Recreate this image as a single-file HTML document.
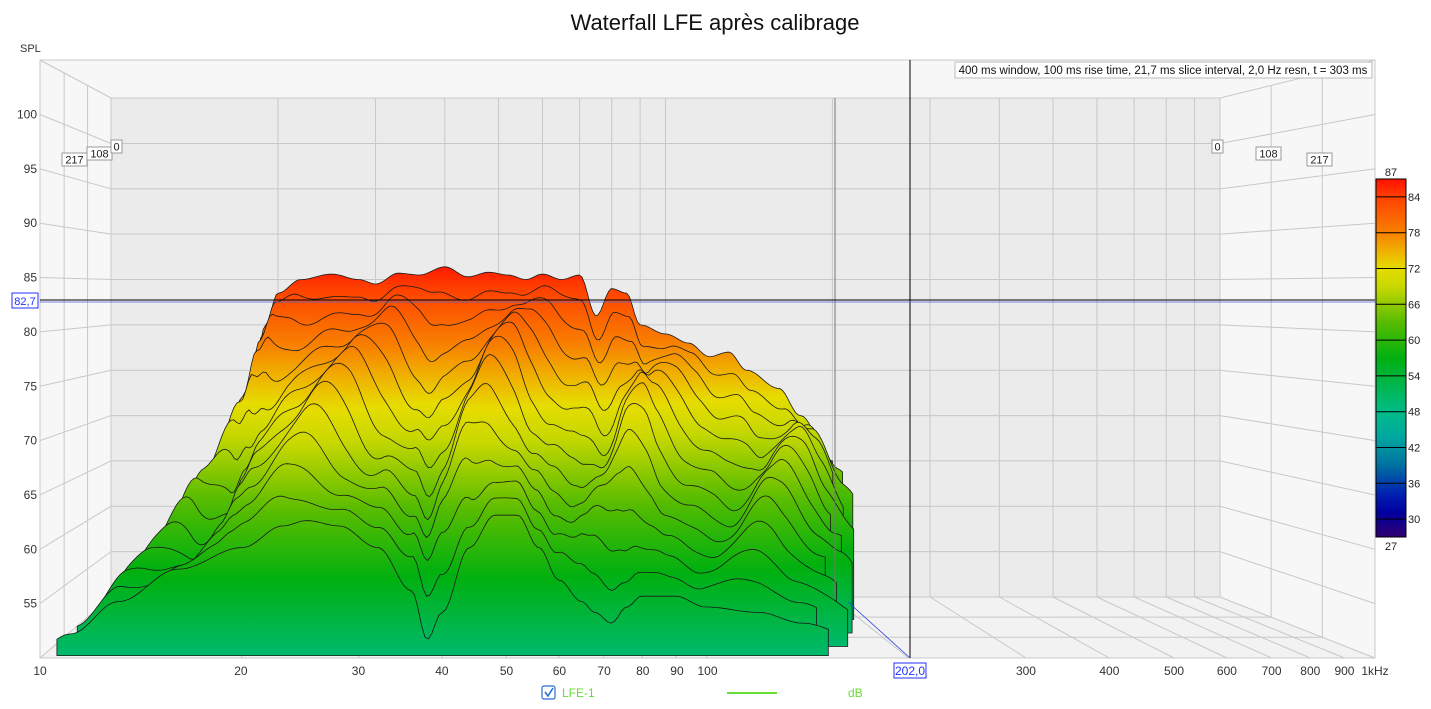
<!DOCTYPE html>
<html><head><meta charset="utf-8">
<style>
html,body{margin:0;padding:0;background:#fff;width:1431px;height:709px;overflow:hidden}
svg text{font-family:"Liberation Sans",sans-serif}
</style></head>
<body>
<svg id="s" width="1431" height="709" xmlns="http://www.w3.org/2000/svg">
<defs>
<linearGradient id="cb" x1="0" y1="179" x2="0" y2="537" gradientUnits="userSpaceOnUse">
<stop offset="0" stop-color="#ff1000"/>
<stop offset="0.05" stop-color="#ff4000"/>
<stop offset="0.15" stop-color="#f88000"/>
<stop offset="0.2" stop-color="#f0b000"/>
<stop offset="0.25" stop-color="#e6dc00"/>
<stop offset="0.3" stop-color="#c8d800"/>
<stop offset="0.4" stop-color="#58bc00"/>
<stop offset="0.5" stop-color="#00b010"/>
<stop offset="0.6" stop-color="#00b860"/>
<stop offset="0.65" stop-color="#00bc88"/>
<stop offset="0.72" stop-color="#00a8a0"/>
<stop offset="0.8" stop-color="#0070a0"/>
<stop offset="0.88" stop-color="#0020b0"/>
<stop offset="0.93" stop-color="#0000a0"/>
<stop offset="1" stop-color="#300070"/>
</linearGradient>
</defs>
<g id="bg"></g>
<g id="wf"></g>
<g id="ov"></g>
</svg>
<script>
(function(){
const NS="http://www.w3.org/2000/svg";
function el(p,t,a,txt){const e=document.createElementNS(NS,t);for(const k in a)e.setAttribute(k,a[k]);if(txt!==undefined)e.textContent=txt;p.appendChild(e);return e;}
const bg=document.getElementById('bg'),wf=document.getElementById('wf'),ov=document.getElementById('ov'),defs=document.querySelector('defs');
const xf=f=>40+667.5*Math.log10(f/10);
const xb=f=>111+(xf(f)-40)*0.8307;
const yf=s=>658-(s-50)*10.87;
const yb=s=>98+(yf(s)-60)*0.8344;
const X=(f,p)=>xb(f)+(xf(f)-xb(f))*p;
const Y=(s,p)=>yb(s)+(yf(s)-yb(s))*p;
el(bg,'rect',{x:40,y:60,width:1335,height:598,fill:'#f7f7f7'});
el(bg,'polygon',{points:'111,98 1220,98 1220,597 111,597',fill:'#ebebeb'});
el(bg,'polygon',{points:'40,658 111,597 1220,597 1375,658',fill:'#f2f2f2'});
const G='#c8c8c8';
el(bg,'line',{x1:40,y1:60,x2:111,y2:98,stroke:G});
el(bg,'line',{x1:1375,y1:60,x2:1220,y2:98,stroke:G});
el(bg,'line',{x1:40,y1:658,x2:111,y2:597,stroke:G});
el(bg,'line',{x1:1375,y1:658,x2:1220,y2:597,stroke:G});
el(bg,'rect',{x:111,y:98,width:1109,height:499,fill:'none',stroke:G});
el(bg,'rect',{x:40,y:60,width:1335,height:598,fill:'none',stroke:G});
for(let s=55;s<=100;s+=5){
 el(bg,'line',{x1:111,y1:yb(s),x2:1220,y2:yb(s),stroke:G});
 el(bg,'line',{x1:40,y1:yf(s),x2:111,y2:yb(s),stroke:G});
 el(bg,'line',{x1:1375,y1:yf(s),x2:1220,y2:yb(s),stroke:G});
 el(bg,'text',{x:37,y:yf(s)+4,'font-size':12,'text-anchor':'end',fill:'#333'},String(s));
}
const fr=[20,30,40,50,60,70,80,90,100,200,300,400,500,600,700,800,900];
fr.forEach(f=>{
 el(bg,'line',{x1:xb(f),y1:98,x2:xb(f),y2:597,stroke:G});
 el(bg,'line',{x1:xf(f),y1:658,x2:xb(f),y2:597,stroke:G});
 if(f!==200)el(bg,'text',{x:xf(f),y:675,'font-size':12,'text-anchor':'middle',fill:'#333'},String(f));
});
el(bg,'text',{x:40,y:675,'font-size':12,'text-anchor':'middle',fill:'#333'},'10');
el(bg,'text',{x:1375,y:675,'font-size':12,'text-anchor':'middle',fill:'#333'},'1kHz');
[0.33,0.66].forEach(p=>{
 const xl=111-71*p, xr=1220+155*p, yt=98-38*p, ybt=597+61*p;
 el(bg,'line',{x1:xl,y1:yt,x2:xl,y2:ybt,stroke:G});
 el(bg,'line',{x1:xr,y1:yt,x2:xr,y2:ybt,stroke:G});
 el(bg,'line',{x1:xl,y1:ybt,x2:xr,y2:ybt,stroke:G});
});
el(bg,'text',{x:20,y:52,'font-size':11,fill:'#333'},'SPL');
el(bg,'text',{x:715,y:30,'font-size':22,'text-anchor':'middle',fill:'#111'},'Waterfall LFE après calibrage');
const topT=[[10,50],[11,55],[14,60],[16,66],[18,74],[19,80],[20,83.5],[22,85],[25,85.6],[28,85],[30,84.5],[33,85.7],[36,85.5],[40,86.4],[44,85.3],[48,85.8],[52,85.5],[56,85],[60,85.6],[65,85],[70,85.5],[75,81],[80,84],[85,83.5],[90,80],[100,79],[110,78],[120,76.5],[130,77],[140,75],[160,73],[175,70],[200,65],[250,55]];
const botT=[[10,51],[11,52],[13,55],[16,58],[20,60],[23,62],[25,62.5],[28,62],[32,60],[36,56],[38,51.5],[40,54],[44,60],[48,63],[52,63],[56,60],[60,57],[65,55],[68,54],[72,53],[76,54.5],[80,55.5],[90,55.5],[100,54.5],[120,54],[140,53],[165,52],[250,51]];
function interp(t,f){const lf=Math.log(f);if(f<=t[0][0])return t[0][1];for(let i=1;i<t.length;i++){if(f<=t[i][0]){const a=Math.log(t[i-1][0]),b=Math.log(t[i][0]);const u=(lf-a)/(b-a);const w=(1-Math.cos(Math.PI*u))/2;return t[i-1][1]*(1-w)+t[i][1]*w;}}return t[t.length-1][1];}
const N=14;
for(let k=0;k<N;k++){
 const q=k/(N-1), p=0.96*q;
 const fmin=18-7.5*q, fmax=200-55*q+(k%3)*8;
 const gid='g'+k;
 const lg=el(defs,'linearGradient',{id:gid,x1:0,x2:0,y1:Y(87,p),y2:Y(27,p),gradientUnits:'userSpaceOnUse'});
 [[0,'#ff1000'],[0.05,'#ff4000'],[0.15,'#f88000'],[0.2,'#f0b000'],[0.25,'#e6dc00'],[0.3,'#c8d800'],[0.4,'#58bc00'],[0.5,'#00b010'],[0.6,'#00b860'],[0.65,'#00bc88'],[0.72,'#00a8a0'],[1,'#0060a0']].forEach(s=>el(lg,'stop',{offset:s[0],'stop-color':s[1]}));
 let pts=[];
 const steps=220;
 for(let i=0;i<=steps;i++){
  const f=fmin*Math.pow(fmax/fmin,i/steps);
  const lf=Math.log(f);
  let L=interp(topT,f)*(1-q)+interp(botT,f)*q+2.8*Math.sin(Math.PI*q)*Math.sin(lf*11+q*6)+1.2*Math.sin(Math.PI*q)*Math.sin(lf*23+k);
  L=Math.max(L,51);
  pts.push([X(f,p),Y(L,p)]);
 }
 const y0a=Y(50,p);
 let d='M'+pts[0][0].toFixed(1)+','+y0a.toFixed(1);
 pts.forEach(pt=>d+=' L'+pt[0].toFixed(1)+','+pt[1].toFixed(1));
 d+=' L'+pts[pts.length-1][0].toFixed(1)+','+y0a.toFixed(1)+' Z';
 el(wf,'path',{d:d,fill:'url(#'+gid+')',stroke:'#1a1a1a','stroke-width':0.8});
}
el(ov,'line',{x1:835,y1:98,x2:835,y2:597,stroke:'#777'});
el(ov,'line',{x1:910,y1:60,x2:910,y2:658,stroke:'#000'});
el(ov,'line',{x1:40,y1:300,x2:1375,y2:300,stroke:'#000'});
el(ov,'line',{x1:40,y1:302,x2:1375,y2:302,stroke:'#5060d0','stroke-width':0.8});
el(ov,'line',{x1:848,y1:602,x2:910,y2:658,stroke:'#3040e0','stroke-width':0.8});
el(ov,'rect',{x:12,y:293,width:26,height:15,fill:'#fff',stroke:'#2030ff'});
el(ov,'text',{x:25,y:305,'font-size':11,'text-anchor':'middle',fill:'#2030ff'},'82,7');
el(ov,'rect',{x:894,y:663,width:32,height:15,fill:'#fff',stroke:'#2030ff'});
el(ov,'text',{x:910,y:675,'font-size':12,'text-anchor':'middle',fill:'#2030ff'},'202,0');
el(ov,'rect',{x:955,y:62,width:417,height:16,fill:'#fff',stroke:'#bbb'});
el(ov,'text',{x:1163,y:74,'font-size':11.5,'text-anchor':'middle',fill:'#111'},'400 ms window, 100 ms rise time, 21,7 ms slice interval, 2,0 Hz resn, t = 303 ms');
[[62,153,'217'],[87,147,'108'],[111,140,'0'],[1212,140,'0'],[1256,147,'108'],[1307,153,'217']].forEach(b=>{
 const w=b[2].length*7+4;
 el(ov,'rect',{x:b[0],y:b[1],width:w,height:13,fill:'#fff',stroke:'#999'});
 el(ov,'text',{x:b[0]+w/2,y:b[1]+10.5,'font-size':11,'text-anchor':'middle',fill:'#222'},b[2]);
});
el(ov,'rect',{x:1376,y:179,width:30,height:358,fill:'url(#cb)',stroke:'#000'});
el(ov,'text',{x:1391,y:176,'font-size':11,'text-anchor':'middle',fill:'#222'},'87');
el(ov,'text',{x:1391,y:550,'font-size':11,'text-anchor':'middle',fill:'#222'},'27');
for(let v=84;v>=30;v-=6){const y=179+(87-v)*358/60;el(ov,'line',{x1:1376,y1:y,x2:1406,y2:y,stroke:'#000'});el(ov,'text',{x:1408,y:y+4,'font-size':11,fill:'#222'},String(v));}
el(ov,'rect',{x:542,y:686,width:13,height:13,rx:2,fill:'#fff',stroke:'#2a6fd0','stroke-width':1.2});
el(ov,'path',{d:'M545,692 L548,696 L553,688',fill:'none',stroke:'#2a6fd0','stroke-width':1.6});
el(ov,'text',{x:562,y:697,'font-size':12,fill:'#66dd33'},'LFE-1');
el(ov,'line',{x1:727,y1:693,x2:777,y2:693,stroke:'#66dd33','stroke-width':2});
el(ov,'text',{x:848,y:697,'font-size':12,fill:'#66dd33'},'dB');
})();
</script>
</body></html>
